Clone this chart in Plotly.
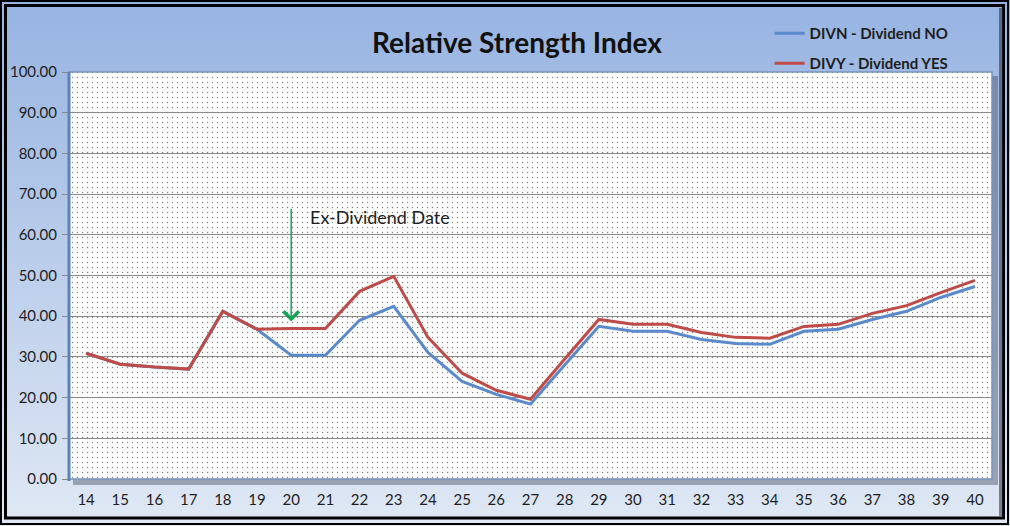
import plotly.graph_objects as go

# RSI readings by day of month
days = list(range(14, 41))
divn = [30.9, 28.2, 27.5, 27.0, 41.2, 36.8, 30.4, 30.4, 39.0, 42.4, 31.1, 24.0, 20.8, 18.4,
        28.0, 37.5, 36.3, 36.3, 34.3, 33.3, 33.1, 36.3, 36.8, 39.2, 41.2, 44.6, 47.3]
divy = [30.9, 28.2, 27.5, 27.0, 41.2, 36.8, 37.0, 37.0, 46.1, 49.8, 34.8, 26.0, 21.8, 19.6,
        29.5, 39.2, 38.0, 38.0, 36.0, 34.8, 34.6, 37.5, 38.0, 40.7, 42.6, 45.8, 48.8]
names = ["DIVN - Dividend NO", "DIVY - Dividend YES"]
colors = ["#5A8ACB", "#BE4B48"]

W, H = 1010, 526
# plot area in pixels
PL, PR, PT, PB = 69, 992, 72, 479

FONT = "Lato"

fig = go.Figure()

# background: gradient, shadow and dotted plot area (drawn on a pixel axis)
fig.add_trace(go.Scatter(
    x=[0, W, W, 0, 0], y=[0, 0, H, H, 0], mode="none", fill="toself",
    fillgradient=dict(type="vertical", start=H, stop=0,
                      colorscale=[[0, "#E0E8F4"], [1, "#96B3E1"]]),
    hoverinfo="skip", showlegend=False, xaxis="x", yaxis="y"))
fig.add_trace(go.Scatter(
    x=[PL + 4, PR + 6, PR + 6, PL + 4, PL + 4], y=[PT + 4, PT + 4, PB + 6, PB + 6, PT + 4],
    mode="none", fill="toself", fillcolor="rgba(70,80,100,0.45)",
    hoverinfo="skip", showlegend=False, xaxis="x", yaxis="y"))
fig.add_trace(go.Scatter(
    x=[PL, PR, PR, PL, PL], y=[PT, PT, PB, PB, PT], mode="none", fill="toself",
    fillcolor="white",
    fillpattern=dict(shape=".", size=5, solidity=0.06, fgcolor="#000000", bgcolor="white"),
    hoverinfo="skip", showlegend=False, xaxis="x", yaxis="y"))

# data series
for vals, name, col, leg in zip([divn, divy], names, colors, ["legend", "legend2"]):
    fig.add_trace(go.Scatter(
        x=days, y=vals, mode="lines", name=name, legend=leg,
        line=dict(color=col, width=3), xaxis="x2", yaxis="y2"))

shapes = [
    # plot area border
    dict(type="rect", xref="x", yref="y", x0=PL, x1=PR, y0=PT, y1=PB,
         line=dict(color="#7893BC", width=1.5), layer="above"),
    dict(type="line", xref="x", yref="y", x0=PL, x1=PL, y0=PT, y1=PB + 2,
         line=dict(color="#5D82B8", width=3), layer="above"),
    # outer double frame
    dict(type="rect", xref="x", yref="y", x0=1, x1=W - 2, y0=1, y1=H - 2,
         line=dict(color="black", width=2), layer="above"),
    dict(type="rect", xref="x", yref="y", x0=5.5, x1=W - 6.5, y0=5.5, y1=H - 8,
         line=dict(color="black", width=3), layer="above"),
    dict(type="line", xref="x", yref="y", x0=W - 9, x1=W - 9, y0=8, y1=H - 10,
         line=dict(color="rgba(40,40,60,0.55)", width=4), layer="above"),
]

fig.update_layout(
    width=W, height=H,
    margin=dict(l=0, r=0, t=0, b=0),
    paper_bgcolor="white", plot_bgcolor="rgba(0,0,0,0)",
    font=dict(family=FONT, color="#1E1E1E"),
    title=dict(text="<b>Relative Strength Index</b>", x=517 / W, xanchor="center",
               y=1 - 43 / H, yanchor="middle", font=dict(size=28, color="#111111")),
    xaxis=dict(domain=[0, 1], range=[0, W], visible=False, fixedrange=True),
    yaxis=dict(domain=[0, 1], range=[H, 0], visible=False, fixedrange=True),
    xaxis2=dict(domain=[PL / W, PR / W], anchor="y2", range=[13.5, 40.5],
                tickvals=days, ticks="", showgrid=False, zeroline=False,
                tickfont=dict(size=15), ticklabelstandoff=10, automargin=False),
    yaxis2=dict(domain=[(H - PB) / H, (H - PT) / H], anchor="x2", range=[0, 100],
                dtick=10, tickformat=".2f", gridcolor="#8A8A8A", gridwidth=1,
                zeroline=False, ticks="outside", ticklen=6, tickcolor="#8A8A8A",
                tickfont=dict(size=15), ticklabelstandoff=2, automargin=False),
    legend=dict(x=0.762, y=1 - 17 / H, xanchor="left", yanchor="top",
                bgcolor="rgba(0,0,0,0)", font=dict(size=15, color="#1E1E1E", weight="bold")),
    legend2=dict(x=0.762, y=1 - 47 / H, xanchor="left", yanchor="top",
                 bgcolor="rgba(0,0,0,0)", font=dict(size=15, color="#1E1E1E", weight="bold")),
    shapes=shapes,
    annotations=[
        dict(x=20, y=38.7, ax=20, ay=66.7, xref="x2", yref="y2", axref="x2", ayref="y2",
             text="", showarrow=True, arrowhead=4, arrowsize=2, arrowwidth=1.5,
             arrowcolor="#14A556"),
        dict(x=20.5, y=64.4, xref="x2", yref="y2", text="Ex-Dividend Date", showarrow=False,
             xanchor="left", yanchor="middle", font=dict(size=18, color="#1E1E1E")),
    ],
)

# drop the default page margin so the figure fills the window
fig.write_html("out.html", config={"displayModeBar": False},
               post_script="document.body.style.margin='0';")
